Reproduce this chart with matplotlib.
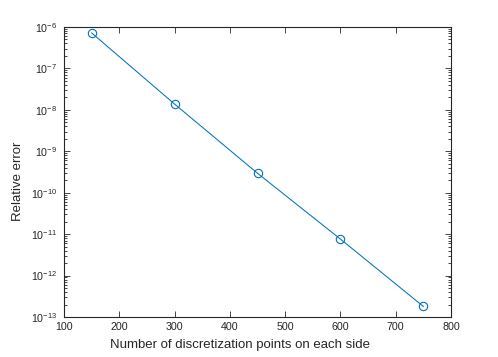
import matplotlib
matplotlib.use("Agg")
import matplotlib.pyplot as plt
import matplotlib.ticker as ticker
import numpy as np

# values
n_points = [150, 300, 450, 600, 750]
rel_error = [7.2e-7, 1.38e-8, 2.95e-10, 7.6e-12, 1.8e-13]

plt.rcParams['font.family'] = ['Liberation Sans', 'DejaVu Sans']
plt.rcParams['mathtext.fontset'] = 'custom'
plt.rcParams['mathtext.rm'] = 'Liberation Sans'
plt.rcParams['mathtext.it'] = 'Liberation Sans'
plt.rcParams['mathtext.default'] = 'regular'

axcol = '#262626'

fig = plt.figure(figsize=(4.98, 3.57), dpi=100)
ax = fig.add_axes([64 / 498, 40 / 357, 387 / 498, 290 / 357])

ax.plot(n_points, rel_error, color='#0072BD', linewidth=0.75,
        marker='o', markersize=6, markerfacecolor='none', markeredgewidth=0.8)
ax.set_yscale('log')
ax.set_xlim(100, 800)
ax.set_ylim(1e-13, 1e-6)

ax.xaxis.set_major_locator(ticker.MultipleLocator(100))
ax.yaxis.set_major_locator(ticker.LogLocator(base=10, numticks=20))
ax.yaxis.set_minor_locator(ticker.LogLocator(base=10, subs=np.arange(2, 10), numticks=20))
ax.yaxis.set_minor_formatter(ticker.NullFormatter())

ax.tick_params(which='both', direction='in', top=True, right=True, colors=axcol,
               labelsize=7.7, width=0.6)
ax.tick_params(which='major', length=4)
ax.tick_params(which='minor', length=2)
ax.tick_params(axis='y', which='major', pad=5)
for s in ax.spines.values():
    s.set_color(axcol)
    s.set_linewidth(0.8)

ax.set_xlabel('Number of discretization points on each side', fontsize=9.5, color=axcol)
ax.set_ylabel('Relative error', fontsize=9.5, color=axcol)
ax.xaxis.set_label_coords(0.455, -0.097)
ax.xaxis.label.set_va('center')
ax.yaxis.set_label_coords(-0.119, 0.469)
ax.yaxis.label.set_va('center')

fig.savefig('out.png', dpi=100)
